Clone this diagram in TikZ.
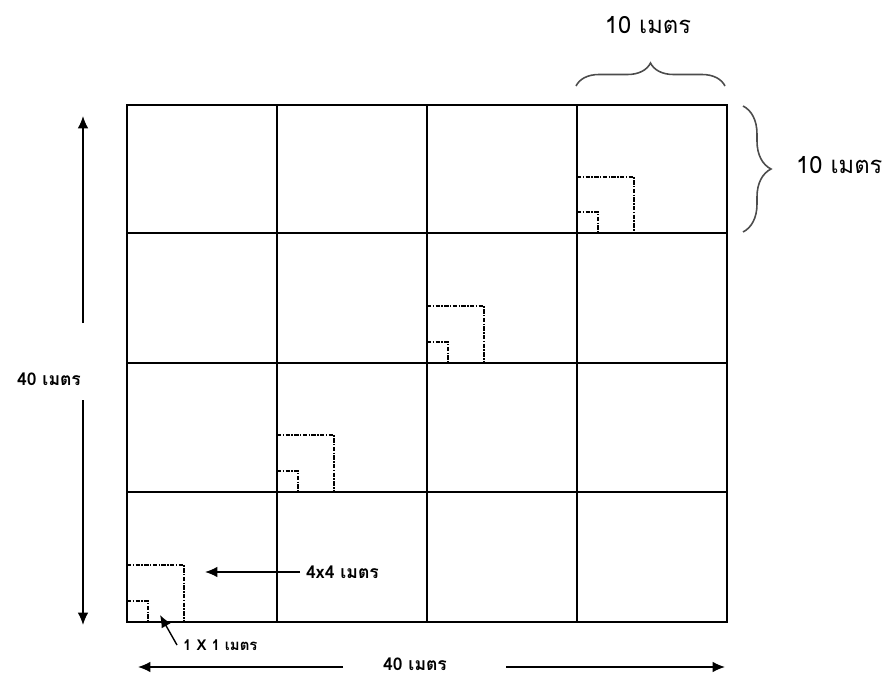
\documentclass[tikz,border=0pt]{standalone}
\usepackage{fontspec}
\setmainfont[Script=Thai]{Loma}
\usetikzlibrary{arrows.meta,decorations.pathreplacing}

\begin{document}
\begin{tikzpicture}[x=0.02cm,y=-0.02cm,
  arr/.style={line width=0.8pt,-{Latex[length=7pt,width=6pt]}},
  plot/.style={line width=0.8pt,dash pattern=on 2.5pt off 0.8pt on 0.8pt off 0.8pt},
  brc/.style={draw=black!70,line width=0.9pt,decorate,decoration={brace}},
  lbl/.style={font=\fontsize{10}{12}\selectfont\bfseries}]
  \useasboundingbox (0,0) rectangle (887,676);
  % grid 40 x 40 m
  \draw[line width=1.2pt] (277,105) -- (277,622) (427,105) -- (427,622) (577,105) -- (577,622);
  \draw[line width=1.2pt] (127,233) -- (727,233) (127,363) -- (727,363) (127,492) -- (727,492);
  \draw[line width=1.7pt] (127,105) rectangle (727,622);
  % sub plots 4x4 and 1x1
  \draw[plot] (127,565) -| (184,622);
  \draw[plot] (127,601) -| (148,622);
  \draw[plot] (277,435) -| (334,492);
  \draw[plot] (277,471) -| (298,492);
  \draw[plot] (427,306) -| (484,363);
  \draw[plot] (427,342) -| (448,363);
  \draw[plot] (577,177) -| (634,233);
  \draw[plot] (577,212) -| (598,233);
  % braces
  \draw[brc,decoration={amplitude=0.46cm}] (576,86) -- (725,86);
  \draw[brc,decoration={amplitude=0.56cm}] (743,106) -- (743,232);
  \node (top) at (648,25) {\fontsize{13.5}{15}\selectfont 10 เมตร};
  \node[anchor=west] (side) at (790,165) {\fontsize{13.5}{15}\selectfont 10 เมตร};
  % height
  \node[lbl] (height) at (49,379) {40 เมตร};
  \coordinate (h1) at (83,323);
  \coordinate (h2) at (83,116);
  \coordinate (h3) at (83,400);
  \coordinate (h4) at (83,625);
  \draw[arr] (h1) -- (h2);
  \draw[arr] (h3) -- (h4);
  % width
  \node[lbl,inner sep=1pt] (width) at (415,664) {40 เมตร};
  \coordinate (w1) at (343,667);
  \coordinate (w2) at (138,667);
  \coordinate (w3) at (506,667);
  \coordinate (w4) at (725,667);
  \draw[arr] (w1) -- (w2);
  \draw[arr] (w3) -- (w4);
  % plot labels
  \node[lbl,anchor=west] (big) at (300,572) {4x4 เมตร};
  \coordinate (bigtip) at (205,572);
  \draw[arr] (big) -- (bigtip);
  \node[anchor=west,font=\fontsize{8.5}{10}\selectfont\bfseries] (small) at (177,645) {1 X 1 เมตร};
  \coordinate (smalltip) at (160,615);
  \draw[arr] (small.west) -- (smalltip);
\end{tikzpicture}
\end{document}
